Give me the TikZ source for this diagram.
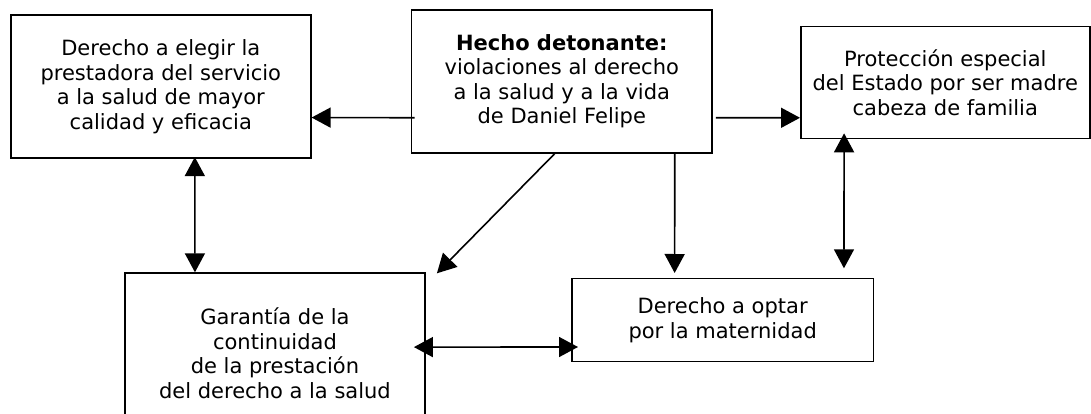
\documentclass[tikz,border=0pt]{standalone}
\usepackage{fontspec}
\setmainfont{DejaVu Sans}
\usetikzlibrary{arrows.meta}
\tikzset{
  box/.style={draw, line width=1.6pt, inner sep=0pt, align=center,
    font=\fontsize{21pt}{24.5pt}\selectfont, anchor=north west},
  arr/.style={line width=1.6pt, -{Triangle[length=19pt,width=20pt]}},
  darr/.style={line width=1.6pt, {Triangle[length=19pt,width=20pt]}-{Triangle[length=19pt,width=20pt]}}
}
\begin{document}
\begin{tikzpicture}[x=1pt,y=-1pt]
\useasboundingbox (0,0) rectangle (1091,414);
\clip (0,0) rectangle (1091,414);
\node[box, minimum width=300pt, minimum height=142.5pt] (A) at (10,14.5)
  {Derecho a elegir la\\prestadora del servicio\\a la salud de mayor\\calidad y eficacia};
\node[box, minimum width=300.5pt, minimum height=142.7pt] (H) at (410.7,9.3)
  {\textbf{Hecho detonante:}\\violaciones al derecho\\a la salud y a la vida\\de Daniel Felipe};
\node[box, minimum width=289pt, minimum height=112pt] (P) at (800,25.7)
  {Protección especial\\del Estado por ser madre\\cabeza de familia};
\node[box, minimum width=300.3pt, minimum height=160pt] (G) at (124,272.3)
  {Garantía de la\\continuidad\\de la prestación\\del derecho a la salud};
\node[box, minimum width=301.7pt, minimum height=83pt] (D) at (571,277.7)
  {Derecho a optar\\por la maternidad};
% connectors
\draw[arr] ([xshift=4pt,yshift=-36.3pt]H.west) -- ([yshift=-31pt]A.east);
\draw[arr] ([xshift=3pt,yshift=-36.3pt]H.east) -- ([yshift=-35.3pt]P.west);
\draw[darr] ([xshift=34pt,yshift=1.5pt]A.south) -- ([xshift=-80pt]G.north);
\draw[arr] ([xshift=-7pt]H.south) -- ([xshift=11pt,yshift=-1pt]G.north east);
\draw[arr] ([xshift=113pt]H.south) -- ([xshift=-48pt,yshift=4.7pt]D.north);
\draw[darr] ([xshift=-101.2pt,yshift=6pt]P.south) -- ([xshift=121.3pt,yshift=9.4pt]D.north);
\draw[darr] ([xshift=-12pt,yshift=6pt]G.east) -- ([xshift=7pt,yshift=-27pt]D.west);
\end{tikzpicture}
\end{document}
